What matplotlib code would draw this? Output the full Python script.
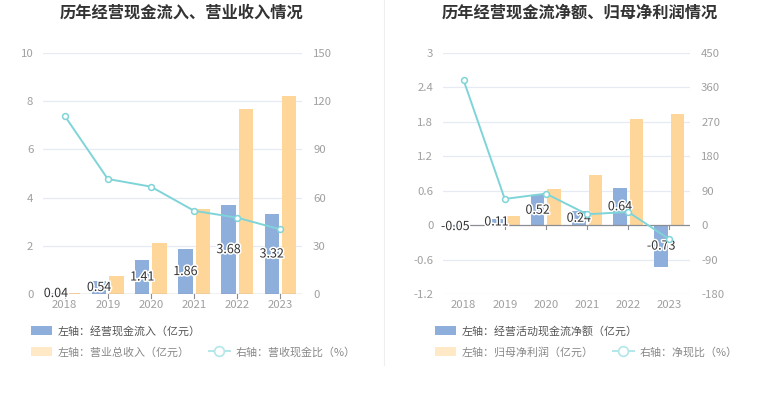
import matplotlib
matplotlib.use("Agg")
import matplotlib.pyplot as plt
import matplotlib.patheffects as pe
from matplotlib.lines import Line2D
from matplotlib.patches import Patch
import numpy as np

plt.rcParams['font.family'] = ['Noto Sans CJK SC', 'DejaVu Sans']

years = ['2018', '2019', '2020', '2021', '2022', '2023']

# Left chart
cash_in = [0.04, 0.54, 1.41, 1.86, 3.68, 3.32]
revenue = [0.05, 0.75, 2.10, 3.53, 7.68, 8.20]
cash_rev_ratio = [111.0, 71.6, 66.8, 51.8, 47.5, 40.2]

# Right chart
net_cash = [-0.05, 0.11, 0.52, 0.24, 0.64, -0.73]
net_profit = [0.005, 0.16, 0.625, 0.88, 1.845, 1.94]
net_cash_ratio = [379.0, 68.5, 82.4, 28.4, 34.5, -37.0]

left_ticks_1 = [0, 2, 4, 6, 8, 10]
right_ticks_1 = [0, 30, 60, 90, 120, 150]
left_ticks_2 = [-1.2, -0.6, 0, 0.6, 1.2, 1.8, 2.4, 3]
right_ticks_2 = [-180, -90, 0, 90, 180, 270, 360, 450]

titles = ['历年经营现金流入、营业收入情况', '历年经营现金流净额、归母净利润情况']
legend1 = ['左轴：经营现金流入（亿元）', '左轴：营业总收入（亿元）', '右轴：营收现金比（%）']
legend2 = ['左轴：经营活动现金流净额（亿元）', '左轴：归母净利润（亿元）', '右轴：净现比（%）']

BLUE = '#8eaedb'
ORANGE = '#ffd699'
TEAL = '#7fd4d8'
GRID = '#e6ebf3'
TICK = '#a0a0a0'
AXIS = '#8a8d94'

W, H = 765, 393
fig = plt.figure(figsize=(W / 100, H / 100), dpi=100)


def px_axes(x0, y0, x1, y1):
    return fig.add_axes([x0 / W, 1 - y1 / H, (x1 - x0) / W, (y1 - y0) / H])


def fmt(v):
    return f'{v:g}'


def draw_panel(x0, x1, bars_a, bars_b, ratio, lt, rt, title, legs, title_x, leg_x):
    ax = px_axes(x0, 53, x1, 294)
    ax2 = ax.twinx()
    x = np.arange(len(years))
    w = 0.33
    ax.bar(x - 0.2, bars_a, w, color=BLUE, zorder=3)
    ax.bar(x + 0.2, bars_b, w, color=ORANGE, zorder=3)
    ax.set_xlim(-0.5, len(years) - 0.5)
    ax.set_ylim(lt[0], lt[-1])
    ax2.set_ylim(rt[0], rt[-1])
    ax.set_yticks(lt)
    ax.set_yticklabels([fmt(v) for v in lt])
    ax2.set_yticks(rt)
    ax2.set_yticklabels([fmt(v) for v in rt])
    for v in lt:
        if v != 0:
            ax.axhline(v, color=GRID, lw=0.9, zorder=1)
    ax.axhline(0, color=AXIS, lw=0.9, zorder=4)
    for xi in x:
        ax.plot([xi, xi], [0, -(lt[-1] - lt[0]) * 0.018], color=AXIS, lw=0.8,
                zorder=4, clip_on=False)
    ax.set_xticks(x)
    ax.set_xticklabels(years)
    for a in (ax, ax2):
        for s in a.spines.values():
            s.set_visible(False)
        a.tick_params(length=0, colors=TICK, labelsize=8.2)
    ax.tick_params(axis='x', pad=4)
    ax.tick_params(axis='y', pad=7)
    ax2.tick_params(axis='y', pad=8)
    ax2.plot(x, ratio, color=TEAL, lw=1.4, marker='o', ms=4.2,
             mfc='white', mec=TEAL, mew=1.1, zorder=5)
    ax2.set_zorder(ax.get_zorder() + 1)
    ax2.patch.set_visible(False)
    for xi, v in zip(x, bars_a):
        ax.text(xi - 0.2, v / 2, f'{v:.2f}', ha='center', va='center',
                fontsize=9, color='#333333', zorder=6,
                path_effects=[pe.withStroke(linewidth=2.2, foreground='white')])
    fig.text(title_x / W, 1 - 13 / H, title, ha='center', va='center',
             fontsize=11.7, fontweight='bold', color='#333333')
    h_line = Line2D([], [], color='#b3e6e8', lw=1.4, marker='o', ms=7,
                    mfc='white', mec='#b3e6e8', mew=1.2)
    p1 = Patch(facecolor=BLUE, edgecolor='none')
    p2 = Patch(facecolor='#ffe9c7', edgecolor='none')
    fig.legend([p1], [legs[0]], loc='center left',
               bbox_to_anchor=(leg_x / W, 1 - 331 / H), frameon=False,
               fontsize=7.9, handlelength=1.95, handleheight=0.85,
               borderaxespad=0, borderpad=0, handletextpad=0.5,
               labelcolor='#555555')
    fig.legend([p2, h_line], [legs[1], legs[2]], loc='center left', ncol=2,
               bbox_to_anchor=(leg_x / W, 1 - 352 / H), frameon=False,
               fontsize=7.9, handlelength=1.95, handleheight=0.85,
               borderaxespad=0, borderpad=0, handletextpad=0.5,
               columnspacing=1.7, labelcolor='#888888')
    return ax, ax2


draw_panel(43, 302, cash_in, revenue, cash_rev_ratio, left_ticks_1, right_ticks_1,
           titles[0], legend1, 182, 31)
draw_panel(443, 690, net_cash, net_profit, net_cash_ratio, left_ticks_2, right_ticks_2,
           titles[1], legend2, 580, 435)

fig.add_artist(Line2D([384 / W, 384 / W], [1 - 365 / H, 1.0], color='#eeeeee', lw=0.8))

fig.savefig('out.png', dpi=100, facecolor='white')
